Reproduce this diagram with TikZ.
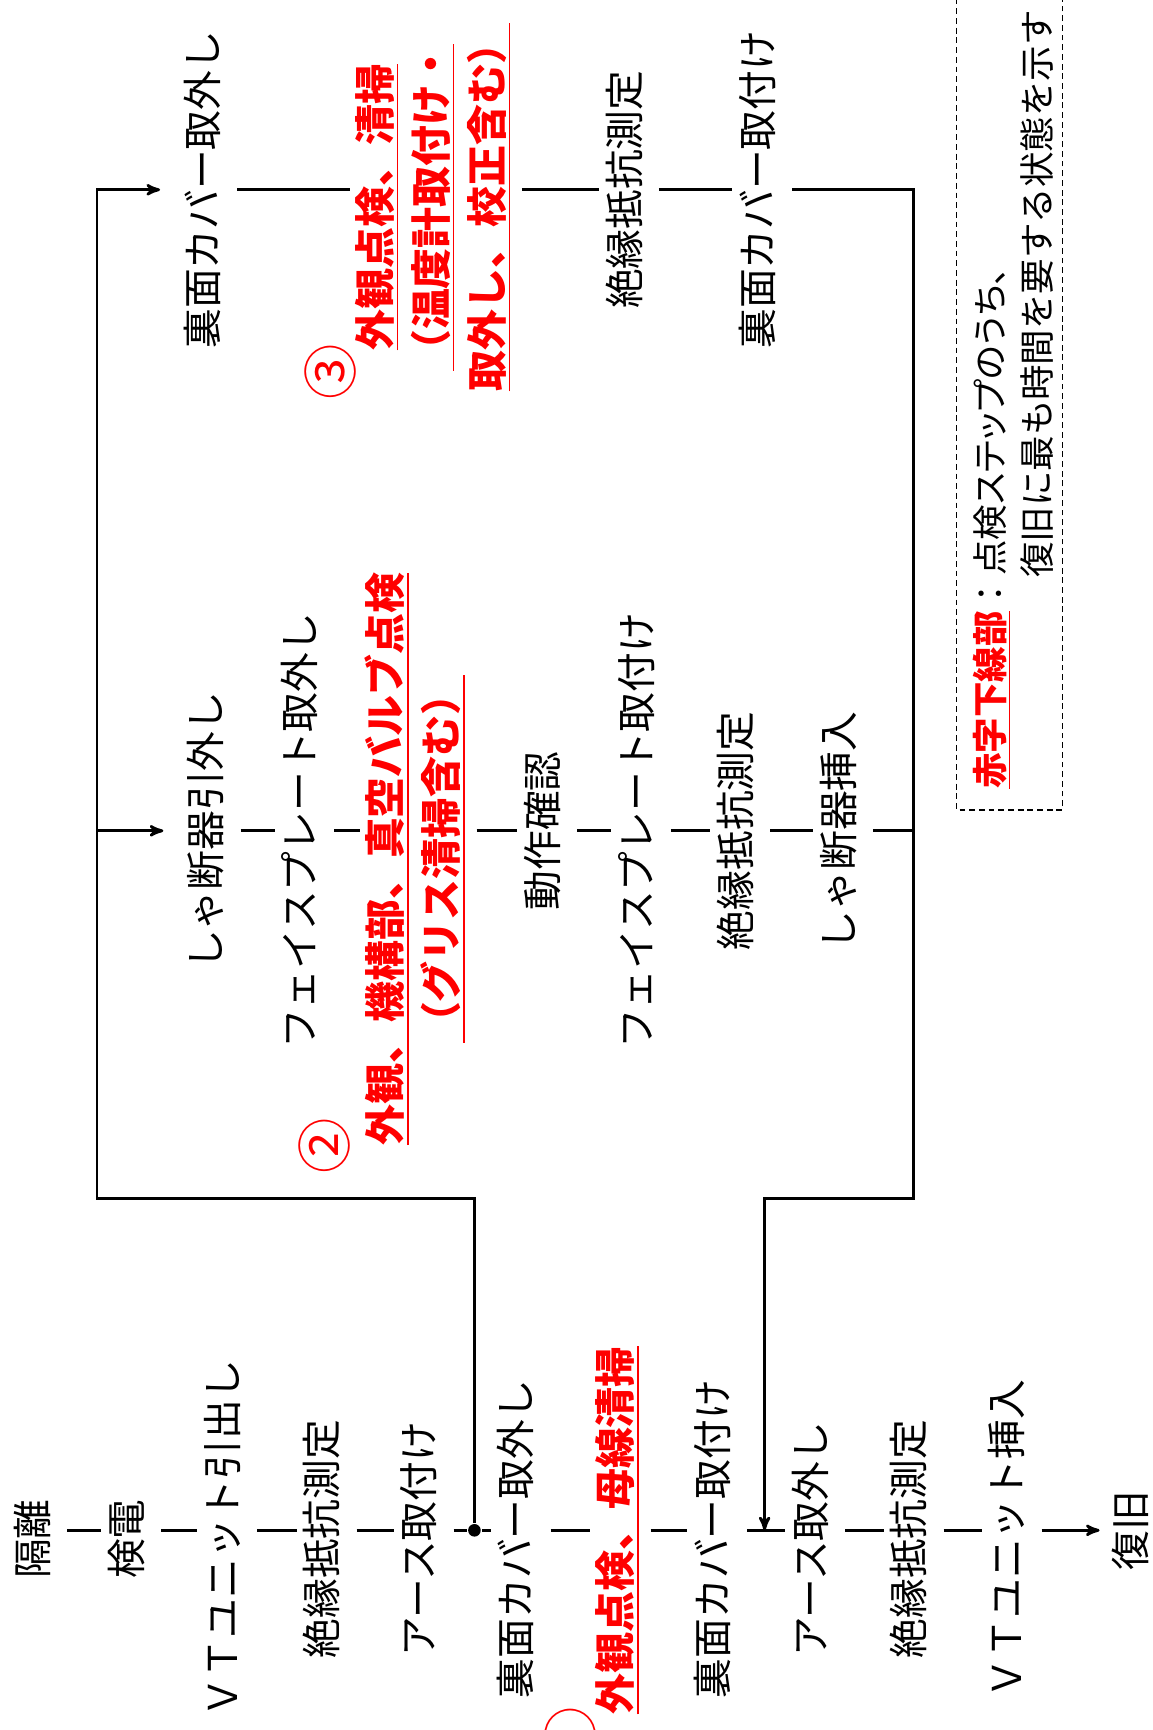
\documentclass[tikz,border=0pt]{standalone}
\usepackage{fontspec}
\setmainfont{Noto Sans CJK JP}
\usetikzlibrary{arrows}

\newcommand{\redul}[1]{\setbox0\hbox{#1}\rlap{\rule[-0.2em]{\wd0}{0.8pt}}\box0}

\begin{document}
\begin{tikzpicture}[>=stealth', line width=1.4pt, x=0.02cm, y=-0.02cm]

  \tikzstyle{txt} = [rotate=90, inner sep=2pt, font=\fontsize{20.5}{28.9}\selectfont,
                     text height=18pt, text depth=7.5pt]
  \tikzstyle{low} = [txt, execute at end node={\kern9pt}]
  \tikzstyle{redtxt} = [txt, text=red, font=\fontsize{21.1}{28.9}\selectfont\bfseries, text height=18.6pt]
  \tikzstyle{redblk} = [rotate=90, inner sep=2pt, text=red, align=center, text depth=7.5pt,
                        font=\fontsize{21.1}{28.9}\selectfont\bfseries]
  \tikzstyle{num} = [rotate=90, inner sep=0pt, text=red, font=\fontsize{28.5}{28.5}\selectfont]
  \tikzstyle{note} = [rotate=90, inner sep=0pt, anchor=west, font=\fontsize{18.3}{26}\selectfont,
                      text height=16.1pt, text depth=2.2pt]

  \useasboundingbox (0,0) rectangle (1045,1568);

  % main line
  \node[low]    (A1)  at (34,1387)   {隔離};
  \node[low]    (A2)  at (119,1387)  {検電};
  \node[low]    (A3)  at (206,1387)  {ＶＴユニット引出し};
  \node[low]    (A4)  at (296,1387)  {絶縁抵抗測定};
  \node[low]    (A5)  at (384,1387)  {アース取付け};
  \node[low]    (A6)  at (472,1387)  {裏面カバー取外し};
  \node[redtxt] (A7)  at (562,1387)  {\redul{外観点検、母線清掃}};
  \node[low]    (A8)  at (650,1387)  {裏面カバー取付け};
  \node[low]    (A9)  at (739,1387)  {アース取外し};
  \node[low]    (A10) at (828,1387)  {絶縁抵抗測定};
  \node[low]    (A11) at (917,1387)  {ＶＴユニット挿入};
  \node[txt]    (A12) at (1029,1387) {復旧};

  % breaker
  \node[txt]    (B1)  at (191,753)   {しゃ断器引外し};
  \node[txt]    (B2)  at (276,753)   {フェイスプレート取外し};
  \node[redblk] (B3)  at (379,753)   {\redul{外観、機構部、真空バルブ点検}\kern29pt\\
                                      \redul{（グリス清掃含む）}\kern29pt};
  \node[txt]    (B4)  at (496,753)   {動作確認};
  \node[txt]    (B5)  at (581,753)   {フェイスプレート取付け};
  \node[txt]    (B6)  at (671,753)   {絶縁抵抗測定};
  \node[txt]    (B7)  at (764,753)   {しゃ断器挿入};

  % rear cover
  \node[txt]    (C1)  at (188,172)   {裏面カバー取外し};
  \node[redblk] (C2)  at (395,172)   {\redul{外観点検、清掃}\kern18pt\\
                                      \redul{（温度計取付け・}\kern18pt\\
                                      \redul{取外し、校正含む）}\kern18pt};
  \node[txt]    (C3)  at (570,172)   {絶縁抵抗測定};
  \node[txt]    (C4)  at (691,172)   {裏面カバー取付け};

  \node[num]    (N1)  at (517,1572)  {①};
  \node[num]    (N2)  at (294,1039)  {②};
  \node[num]    (N3)  at (300,337)   {③};

  \node[circle, fill, inner sep=0pt, minimum size=6.5pt] (J) at (430,1387) {};
  \coordinate (P1) at (88,1086);
  \coordinate (P2) at (828,1086);
  \coordinate (P3) at (693,1387);

  \path (A1) edge (A2)
        (A2) edge (A3)
        (A3) edge (A4)
        (A4) edge (A5)
        (A5) edge (J)
        (J)  edge (A6)
        (A6) edge (A7)
        (A7) edge (A8)
        (A8) edge (A9)
        (A9) edge (A10)
        (A10) edge (A11);
  \path[->] (A11) edge [shorten >=3pt] (A12);

  \path (B1) edge (B2)
        (B2) edge (B3)
        (B3) edge (B4)
        (B4) edge (B5)
        (B5) edge (B6)
        (B6) edge (B7);

  \path (C1) edge (C2)
        (C2) edge (C3)
        (C3) edge (C4);

  \draw[->, shorten >=9pt] (J) |- (P1) |- (C1);
  \draw[->, shorten >=9pt] (P1 |- B1) -- (B1);
  \draw[->] (C4) -| (P2) -| (P3);
  \draw (B7) -- (B7 -| P2);

  % legend
  \node[note] (L1) at (897,716) {{\color{red}\bfseries\redul{赤字下線部}}：\addfontfeature{RawFeature=+palt}点検ステップのうち、};
  \node[note] (L2) at (940,525) {復旧に最も時間を要する状態を示す};
  \draw[line width=0.7pt, dash pattern=on 3pt off 2pt] (867,-10) rectangle (963,734);
\end{tikzpicture}
\end{document}
